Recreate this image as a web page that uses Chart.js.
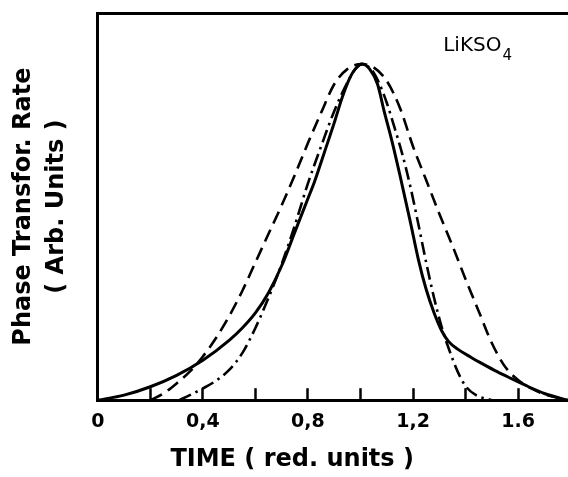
<!DOCTYPE html>
<html>
<head>
<meta charset="utf-8">
<script src="https://cdn.jsdelivr.net/npm/chart.js@4/dist/chart.umd.min.js"></script>
<style>
  html, body { margin: 0; padding: 0; background: #fff; }
  #wrap { width: 568px; height: 477px; }
</style>
</head>
<body>
<div id="wrap"><canvas id="c" width="568" height="477"></canvas></div>
<script>
// ---- data ----
const xTickLabels = { "0": "0", "0.4": "0,4", "0.8": "0,8", "1.2": "1,2", "1.6": "1.6" };
const xTitle = "TIME ( red. units )";
const yTitle = ["Phase Transfor. Rate", "( Arb. Units )"];
const compound = "LiKSO";
const compoundSub = "4";

// solid curve
const solidT = [0, 0.1, 0.2, 0.3, 0.4, 0.5, 0.55, 0.6, 0.65, 0.7, 0.75, 0.8, 0.825, 0.868, 0.9, 0.93, 0.96, 0.98, 1.005, 1.035, 1.065, 1.09, 1.12, 1.15, 1.19, 1.22, 1.25, 1.28, 1.31, 1.335, 1.37, 1.42, 1.47, 1.52, 1.575, 1.64, 1.70, 1.79];
const solidV = [0, 0.015, 0.04, 0.074, 0.119, 0.178, 0.215, 0.26, 0.32, 0.4, 0.5, 0.6, 0.65, 0.75, 0.825, 0.9, 0.96, 0.985, 1.0, 0.985, 0.94, 0.86, 0.77, 0.67, 0.53, 0.42, 0.33, 0.26, 0.205, 0.175, 0.152, 0.128, 0.106, 0.085, 0.064, 0.04, 0.02, 0];

// dashed curve
const dashT = [0.2, 0.25, 0.3, 0.35, 0.4, 0.45, 0.5, 0.55, 0.6, 0.65, 0.7, 0.75, 0.8, 0.85, 0.9, 0.95, 1.005, 1.05, 1.1, 1.15, 1.2, 1.25, 1.3, 1.35, 1.4, 1.45, 1.5, 1.55, 1.6, 1.65, 1.7, 1.79];
const dashV = [0, 0.02, 0.05, 0.085, 0.13, 0.185, 0.25, 0.325, 0.41, 0.495, 0.58, 0.67, 0.765, 0.855, 0.94, 0.985, 1.0, 0.99, 0.95, 0.87, 0.755, 0.655, 0.555, 0.46, 0.36, 0.265, 0.17, 0.10, 0.06, 0.035, 0.018, 0];

// dash-dot curve
const dotT = [0.31, 0.35, 0.4, 0.45, 0.5, 0.55, 0.6, 0.65, 0.7, 0.75, 0.8, 0.85, 0.9, 0.95, 0.98, 1.005, 1.04, 1.07, 1.1, 1.13, 1.16, 1.19, 1.22, 1.25, 1.28, 1.31, 1.34, 1.37, 1.40, 1.44, 1.5];
const dotV = [0, 0.015, 0.035, 0.058, 0.09, 0.14, 0.215, 0.305, 0.405, 0.52, 0.645, 0.755, 0.86, 0.945, 0.985, 1.0, 0.985, 0.945, 0.885, 0.81, 0.73, 0.635, 0.525, 0.41, 0.305, 0.215, 0.145, 0.085, 0.042, 0.015, 0];

const X_MIN = 0, X_MAX = 1.79, Y_MIN = 0, Y_MAX = 1.152;

function pts(t, v) { return t.map((x, i) => ({ x: x, y: v[i] })); }

const FONT = "'DejaVu Sans', sans-serif";

const textPlugin = {
  id: 'textPlugin',
  afterDraw(chart) {
    const { ctx, scales: { x, y } } = chart;
    ctx.save();
    ctx.fillStyle = '#000';
    // x-axis title
    ctx.font = "bold 24px " + FONT;
    ctx.textAlign = 'center';
    ctx.textBaseline = 'middle';
    ctx.fillText(xTitle, x.getPixelForValue(0.74), chart.chartArea.bottom + 60);
    // compound label
    ctx.font = "20px " + FONT;
    ctx.textAlign = 'left';
    ctx.textBaseline = 'alphabetic';
    const lx = x.getPixelForValue(1.315), ly = y.getPixelForValue(1.038);
    ctx.fillText(compound, lx, ly);
    const w = ctx.measureText(compound).width;
    ctx.font = "15px " + FONT;
    ctx.fillText(compoundSub, lx + w + 1, ly + 9);
    ctx.restore();
  }
};

new Chart(document.getElementById('c'), {
  type: 'line',
  data: {
    datasets: [
      { label: 'solid', data: pts(solidT, solidV), borderColor: '#000', borderWidth: 3, pointRadius: 0, cubicInterpolationMode: 'monotone', fill: false },
      { label: 'dashed', data: pts(dashT, dashV), borderColor: '#000', borderWidth: 2.6, borderDash: [13, 7], pointRadius: 0, cubicInterpolationMode: 'monotone', fill: false },
      { label: 'dashdot', data: pts(dotT, dotV), borderColor: '#000', borderWidth: 2.6, borderDash: [13, 5, 2.5, 5], pointRadius: 0, cubicInterpolationMode: 'monotone', fill: false }
    ]
  },
  options: {
    responsive: false,
    animation: false,
    events: [],
    layout: { padding: { left: 0, right: 0, top: 5, bottom: 22 } },
    plugins: { legend: { display: false }, tooltip: { enabled: false } },
    scales: {
      x: {
        type: 'linear', position: 'bottom', min: X_MIN, max: X_MAX,
        border: { display: true, width: 3, color: '#000' },
        grid: { display: true, drawOnChartArea: false, drawTicks: true, tickLength: -12, tickWidth: 2.5, tickColor: '#000' },
        ticks: {
          stepSize: 0.2, includeBounds: false, padding: 22, color: '#000',
          font: { family: FONT, size: 19, weight: 'bold' },
          maxRotation: 0, autoSkip: false,
          callback: (v) => { const k = String(Math.round(v * 10) / 10); return xTickLabels[k] !== undefined ? xTickLabels[k] : ''; }
        }
      },
      xTop: {
        type: 'linear', position: 'top', min: X_MIN, max: X_MAX,
        border: { display: true, width: 3, color: '#000' },
        grid: { display: false },
        ticks: { display: false }
      },
      y: {
        type: 'linear', position: 'left', min: Y_MIN, max: Y_MAX,
        border: { display: true, width: 3, color: '#000' },
        grid: { display: false },
        ticks: { display: false },
        title: {
          display: true, text: yTitle, color: '#000',
          font: { family: FONT, size: 24, weight: 'bold', lineHeight: 1.35 },
          padding: { top: 8, bottom: 17 }
        }
      }
    }
  },
  plugins: [textPlugin]
});
</script>
</body>
</html>
